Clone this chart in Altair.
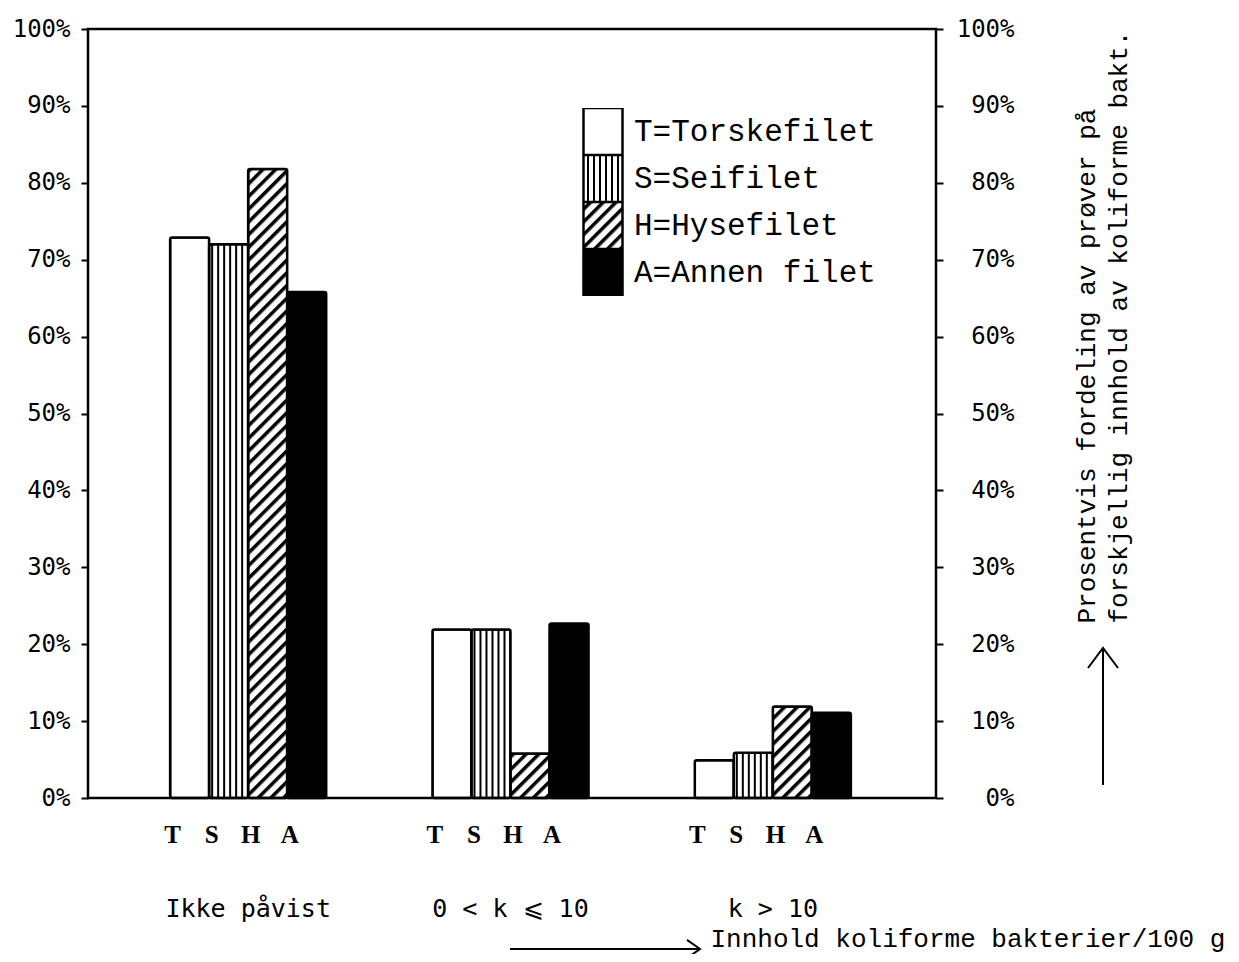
import altair as alt
import pandas as pd
import altair.utils.html as _ah

# ---------------- data ----------------
groups = ["Ikke påvist", "0 < k ⩽ 10", "k > 10"]
series = ["T", "S", "H", "A"]
series_names = ["T=Torskefilet", "S=Seifilet", "H=Hysefilet", "A=Annen filet"]
T_vals = [72.9, 21.9, 4.9]
S_vals = [72.0, 21.9, 5.9]
H_vals = [81.8, 5.8, 11.9]
A_vals = [65.8, 22.7, 11.1]
y_ticks = [0, 10, 20, 30, 40, 50, 60, 70, 80, 90, 100]
right_title = ["Prosentvis fordeling av prøver på", "forskjellig innhold av koliforme bakt."]
x_title = "Innhold koliforme bakterier/100 g"

fills = ["white", "url(#vstripes)", "url(#hatch)", "black"]

# SVG patterns used as fills (vertical stripes, diagonal hatching)
DEFS = (
    '<svg width="0" height="0" style="position:absolute"><defs>'
    '<pattern id="vstripes" patternUnits="userSpaceOnUse" width="6" height="6">'
    '<rect width="6" height="6" fill="white"/><rect x="2" width="2" height="6" fill="black"/></pattern>'
    '<pattern id="hatch" patternUnits="userSpaceOnUse" width="9" height="9" patternTransform="rotate(45)">'
    '<rect width="9" height="9" fill="white"/><rect x="0" width="3.5" height="9" fill="black"/></pattern>'
    '</defs></svg>'
)
_std = _ah.TEMPLATES["standard"]


class _WithDefs:
    def render(self, *a, **k):
        html = _std.render(*a, **k)
        if "<body>" in html:
            return html.replace("<body>", "<body>\n" + DEFS, 1)
        return DEFS + html


_ah.TEMPLATES["standard"] = _WithDefs()

rows = []
for s, name, vals in zip(series, series_names, [T_vals, S_vals, H_vals, A_vals]):
    for g, v in zip(groups, vals):
        rows.append({"group": g, "series": s, "label": name, "value": v})
df = pd.DataFrame(rows)
ann = pd.DataFrame({"k": [0]})

W, H = 848, 769

x_scale = alt.Scale(range=[29, 816], paddingInner=0.405, paddingOuter=0.2025)
x_enc = alt.X(
    "group:N", sort=groups, scale=x_scale,
    axis=alt.Axis(
        title=x_title, ticks=False, labelPadding=98, labelAngle=0,
        labelFont="DejaVu Sans Mono", labelFontSize=25, labelColor="black",
        titleFont="Liberation Mono", titleFontSize=26, titleFontWeight="normal",
        titleColor="black", titleX=622, titleY=140, titleAlign="left",
        titleBaseline="middle", titleAnchor="start",
    ),
)
xo_enc = alt.XOffset("series:N", sort=series,
                     scale=alt.Scale(paddingInner=0, paddingOuter=0))

y_left = alt.Y(
    "value:Q", scale=alt.Scale(domain=[0, 100]),
    axis=alt.Axis(orient="left", title=None, values=y_ticks,
                  labelExpr="datum.value + '%'", labelPadding=11,
                  labelFont="DejaVu Sans Mono", labelFontSize=24),
)
y_right = alt.Y(
    "value:Q", scale=alt.Scale(domain=[0, 100]),
    axis=alt.Axis(orient="right", title=right_title, values=y_ticks,
                  labelExpr="datum.value + '%'", labelPadding=71, labelAlign="right",
                  labelFont="DejaVu Sans Mono", labelFontSize=24,
                  titleFont="Liberation Mono", titleFontSize=26, titleFontWeight="normal",
                  titleColor="black", titleAngle=270, titleX=137, titleY=594,
                  titleAlign="left", titleBaseline="top", titleLineHeight=32),
)

bars = alt.Chart(df).mark_bar(stroke="black", strokeWidth=2.5, cornerRadius=2).encode(
    x=x_enc,
    xOffset=xo_enc,
    y=y_left,
    fill=alt.Fill(
        "label:N", sort=series_names,
        scale=alt.Scale(domain=series_names, range=fills),
        legend=alt.Legend(
            title=None, orient="none", legendX=490, legendY=79, padding=0,
            symbolType="M-0.83,-1H0.83V1H-0.83Z", symbolSize=2209,
            symbolStrokeColor="black", symbolStrokeWidth=2.5, symbolOpacity=1,
            labelFont="Liberation Mono", labelFontSize=31, labelColor="black",
            labelOffset=6, rowPadding=0, clipHeight=47, labelLimit=400,
        ),
    ),
)

right_axis = alt.Chart(df).mark_bar(opacity=0).encode(
    x=x_enc, xOffset=xo_enc, y=y_right
)

letters = alt.Chart(df).mark_text(
    font="Liberation Serif", fontWeight="bold", fontSize=25, dx=-17,
    baseline="middle", color="black"
).encode(x=x_enc, xOffset=xo_enc, y=alt.value(806), text="series:N")

rule_right = alt.Chart(ann).mark_rule(color="black", strokeWidth=2).encode(
    x=alt.value(1015), y=alt.value(619), y2=alt.value(756))
head_up = alt.Chart(ann).mark_point(
    shape="M-0.6,0.8L0,0L0.6,0.8", filled=False, color="black",
    strokeWidth=2, size=2500, opacity=1).encode(x=alt.value(1015), y=alt.value(619))
rule_bottom = alt.Chart(ann).mark_rule(color="black", strokeWidth=2).encode(
    x=alt.value(422), x2=alt.value(612), y=alt.value(920))
head_right = alt.Chart(ann).mark_point(
    shape="M-1,-0.7L0,0L-1,0.7", filled=False, color="black",
    strokeWidth=2, size=676, opacity=1).encode(x=alt.value(612), y=alt.value(920))

chart = alt.layer(
    bars, right_axis, letters, rule_right, head_up, rule_bottom, head_right
).resolve_scale(y="shared").resolve_axis(y="independent").properties(
    width=W, height=H,
    padding={"left": 80, "top": 21, "right": 295, "bottom": 156},
    autosize=alt.AutoSizeParams(type="none"),
    background="white",
).configure_view(
    stroke="black", strokeWidth=2.5
).configure_axis(
    grid=False, domain=False, tickColor="black", tickWidth=2, tickSize=7,
    labelColor="black",
)

chart.save("out.html", embed_options={"renderer": "svg", "actions": False})
